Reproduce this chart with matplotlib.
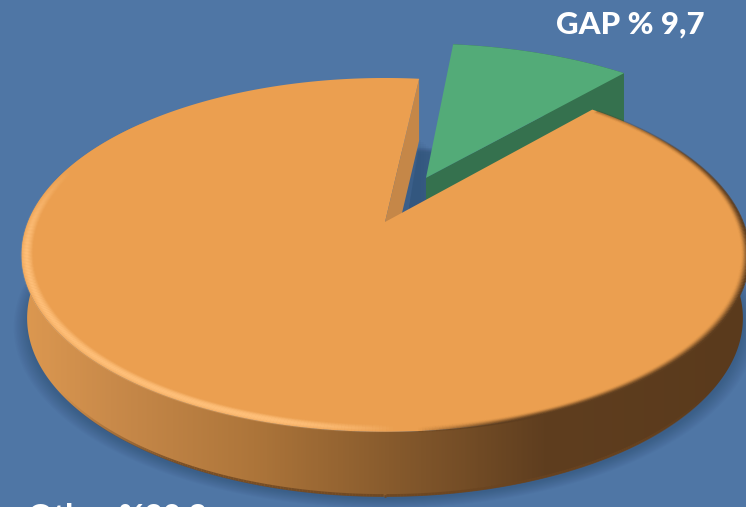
import numpy as np
import matplotlib.pyplot as plt
from matplotlib.collections import LineCollection
from matplotlib.colors import LinearSegmentedColormap, to_rgb
from matplotlib.patches import Polygon

plt.rcParams['font.family'] = ['Lato', 'DejaVu Sans']

labels = ['GAP % 9,7', 'Other %90,3']
shares = [9.7, 90.3]
start_deg = 6.5
explode = 0.297

bg = '#4F76A5'
green_top = '#53AB78'
green_side = '#35714E'
orange_top = '#EB9F50'
orange_wall = '#C58748'

# perspective of the disc, in pixels
cx, cy = 385, 222
sx, sy = 357, 170.8
k = 0.186
depth = 63
shrink_x = 0.985
shrink_y = 1.008


def project(u, v, low=False, sh=shrink_x):
    w = 1 / (1 + k * v)
    x = sx * u * w
    y = -sy * v * w
    if low:
        return cx + x * sh, cy + y * shrink_y + depth
    return cx + x, cy + y


def arc(a0, a1, off=(0, 0), r=1.0, low=False, sh=shrink_x, n=400):
    t = np.radians(np.linspace(a0, a1, n))
    return project(off[0] + r * np.sin(t), off[1] + r * np.cos(t), low, sh)


def band(a0, a1, off=(0, 0), r=1.0, sh=shrink_x):
    x0, y0 = arc(a0, a1, off, r)
    x1, y1 = arc(a0, a1, off, r, low=True, sh=sh)
    return np.r_[x0, x1[::-1]], np.r_[y0, y1[::-1]]


def poly(ax, xs, ys, color, **kw):
    p = Polygon(np.c_[xs, ys], closed=True, fc=color, ec='none', **kw)
    ax.add_patch(p)
    return p


def stroke(ax, x, y, rgb, alpha, lw, z):
    pts = np.c_[x, y]
    segs = np.stack([pts[:-1], pts[1:]], axis=1)
    cols = np.zeros((len(segs), 4))
    cols[:, :3] = rgb
    cols[:, 3] = alpha(x[:-1], y[:-1])
    ax.add_collection(LineCollection(segs, colors=cols, linewidths=lw,
                                     capstyle='butt', zorder=z))


def ring(ax, a0, a1, r, rgb, alpha, lw, z):
    x, y = arc(a0, a1, r=r, n=700)
    stroke(ax, x, y, rgb, alpha, lw, z)


fig = plt.figure(figsize=(7.46, 5.07), dpi=100, facecolor=bg)
ax = fig.add_axes([0, 0, 1, 1])
ax.set_xlim(0, 746)
ax.set_ylim(507, 0)
ax.axis('off')

g0 = start_deg
g1 = g0 + shares[0] * 3.6
o1 = g0 + 360
mid = np.radians((g0 + g1) / 2)
off = (explode * np.sin(mid), explode * np.cos(mid))
green_r = 1.025

# soft shadow under the disc
for i in range(10):
    xs, ys = arc(0, 360, r=0.985 + i * 0.004)
    poly(ax, xs, ys + depth + 8, '#1c3050', alpha=0.03, zorder=1)
# shadow falling behind the cut
for i in range(8):
    xs = [cx + 34, cx + 36 + i * 2.5, cx + 36 + i * 2.5, cx + 22]
    ys = [cy - 82 + i * 2, cy - 82 + i * 2, cy - 8, cy]
    poly(ax, xs, ys, '#2f4c72', alpha=0.05, zorder=1)

# green slice
ax_x, ax_y = project(off[0], off[1])
bx_x, bx_y = project(off[0], off[1], low=True, sh=1)
ex, ey = arc(g0, g1, off, green_r)
lx, ly = arc(g0, g1, off, green_r, low=True, sh=1)
poly(ax, [ax_x, ex[-1], lx[-1], bx_x], [ax_y, ey[-1], ly[-1], bx_y], green_side, zorder=2)
xs, ys = band(g0, g1, off, green_r, sh=1)
poly(ax, xs, ys, green_side, zorder=2)
poly(ax, np.r_[ax_x, ex], np.r_[ax_y, ey], green_top, zorder=3)

# orange wall at the cut
tx, ty = project(np.sin(np.radians(g0)), np.cos(np.radians(g0)))
ux, uy = project(np.sin(np.radians(g0)), np.cos(np.radians(g0)), low=True, sh=1)
cx0, cy0 = project(0, 0)
cx1, cy1 = project(0, 0, low=True, sh=1)
poly(ax, [tx, cx0, cx1, ux], [ty, cy0, cy1, uy], orange_wall, zorder=4)

# orange rim with its left to right gradient
rim_cmap = LinearSegmentedColormap.from_list(
    'rim', [(0, '#DC9850'), (0.12, '#C98A4A'), (0.32, '#AD753A'), (0.52, '#85592C'),
            (0.72, '#5F3E1F'), (1, '#5A3A1C')])
img = ax.imshow(np.linspace(0, 1, 400)[None, :], cmap=rim_cmap, aspect='auto',
                extent=(22, 748, 507, 0), zorder=5)
xs, ys = band(60, 310)
clip = poly(ax, xs, ys, 'none', zorder=5)
img.set_clip_path(clip)
ax.set_xlim(0, 746)
ax.set_ylim(507, 0)

# dark lower lip of the rim, fading out towards both sides
lip_rgb = np.array(to_rgb('#6A4420'))
lx, ly = arc(105, 255, low=True)
stroke(ax, lx, ly - 1, lip_rgb,
       lambda x, y: 0.8 * np.clip((x - 60) / 120, 0, 1) * np.clip((720 - x) / 80, 0, 1),
       2, 6)

# orange top
ex, ey = arc(g1, o1)
poly(ax, np.r_[cx0, ex], np.r_[cy0, ey], orange_top, zorder=7)

# bevel round the edge: light band on the left, dark edge on the right
light = np.array(to_rgb('#FFC07A'))
dark = np.array(to_rgb('#5F3E1F'))


def left_weight(x, y):
    fade_x = np.clip((400 - x) / 130, 0, 1)
    fade_y = np.clip((y - 170) / 80, 0, 1)
    return fade_x * fade_y


def right_weight(x, y):
    side = np.clip((x - 420) / 120, 0, 1)
    grow = np.clip((y - 105) / 120, 0.15, 1)
    return side * grow


for r in np.linspace(0.968, 1.0, 12):
    a = np.clip(1 - abs(r - 0.987) / 0.017, 0, 1)
    ring(ax, g1 + 2, o1 - 2, r, light, lambda x, y, a=a: a * left_weight(x, y), 1.3, 8)
for r in np.linspace(0.982, 1.002, 10):
    a = 0.95 * ((r - 0.98) / 0.022) ** 2
    ring(ax, g1 + 1, o1 - 2, r, dark, lambda x, y, a=a: a * right_weight(x, y), 1.3, 8)

ax.text(630.5, 24.5, labels[0], color='white', fontsize=22.5, fontweight='black',
        ha='center', va='center', zorder=10)
ax.text(117, 526, labels[1], color='white', fontsize=22.5, fontweight='black',
        ha='center', va='baseline', zorder=10, clip_on=True)

fig.savefig('out.png', dpi=100, facecolor=bg)
